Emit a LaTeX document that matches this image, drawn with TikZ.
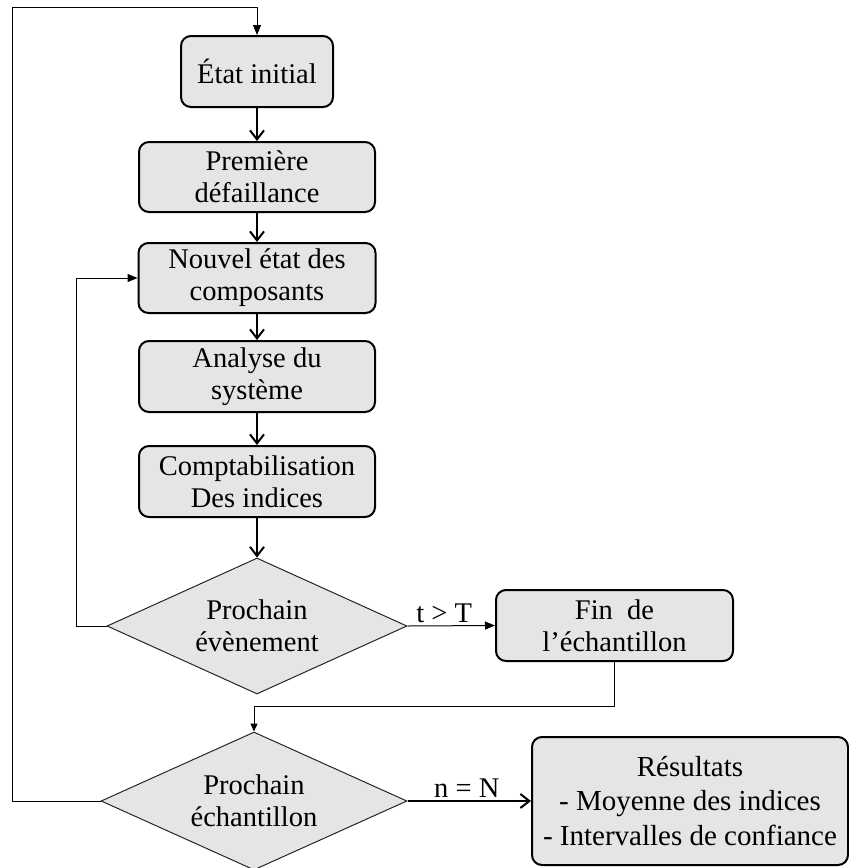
\documentclass[tikz,border=0pt]{standalone}
\usepackage{fontspec}
\setmainfont{Liberation Serif}
\usetikzlibrary{shapes.geometric,arrows.meta}

\tikzset{
  txt/.style={font=\fontsize{28.5pt}{32pt}\selectfont},
  procbox/.style={txt, draw=black, line width=2pt, fill=gray!20, rounded corners=10pt,
    align=center, inner sep=0pt},
  decision/.style={txt, diamond, draw=black!85, line width=1pt, fill=gray!20, align=center,
    inner sep=0pt, shape aspect=2.2},
  mainflow/.style={line width=2pt, -{Straight Barb[length=9pt,width=14pt,line width=2pt]}},
  thinflow/.style={line width=1pt, -{Triangle[length=10pt,width=8pt]}},
  thinline/.style={line width=1pt},
  cond/.style={txt, inner sep=3pt}
}

\begin{document}
\begin{tikzpicture}[x=1pt,y=-1pt]
\useasboundingbox (0,0) rectangle (849,868);

% process boxes of the main column
\node[procbox, minimum width=152pt, minimum height=71pt] (init) at (257,71.5) {État initial};
\node[procbox, minimum width=236pt, minimum height=70pt] (prem) at (257,177) {Première\\défaillance};
\node[procbox, minimum width=237pt, minimum height=70pt] (nouv) at (257,278) {Nouvel état des\\composants};
\node[procbox, minimum width=236pt, minimum height=71pt] (anal) at (257,376.5) {Analyse du\\système};
\node[procbox, minimum width=236pt, minimum height=71pt] (comp) at (257,481.5) {Comptabilisation\\Des indices};

% decisions
\node[decision, minimum width=300pt, minimum height=136pt] (d1) at (257,626) {Prochain\\évènement};
\node[decision, minimum width=306pt, minimum height=138pt] (d2) at (254,801) {Prochain\\échantillon};

% side boxes
\node[procbox, minimum width=237pt, minimum height=71pt] (fin) at (614.5,625.5) {Fin~~de\\l’échantillon};
\node[procbox, minimum width=316pt, minimum height=128pt,
      font=\fontsize{29pt}{34.5pt}\selectfont] (res) at (690,801)
  {Résultats\\- Moyenne des indices\\- Intervalles de confiance};

% main flow
\draw[mainflow] (init) -- (prem);
\draw[mainflow] (prem) -- (nouv);
\draw[mainflow] (nouv) -- (anal);
\draw[mainflow] (anal) -- (comp);
\draw[mainflow] (comp) -- (d1);

% branches
\draw[thinflow] (d1.east) -- node[cond, above, pos=0.42] {t > T} (fin.west);
\draw[mainflow] (d2.east) -- node[cond, above, pos=0.48] {n = N} (res.west);

% loop back to the next event
\draw[thinflow] (d1.west) -- ++(-30,0) |- (nouv.west);

% end of sample to next-sample decision
\draw[thinline, -{Triangle[length=8pt,width=7pt]}] (fin.south) -- ++(0,44) -| (d2.north);

% loop back to the initial state
\coordinate (topleft) at (12,7);
\draw[thinflow] (d2.west) -| (topleft) -| (init.north);
\end{tikzpicture}
\end{document}
